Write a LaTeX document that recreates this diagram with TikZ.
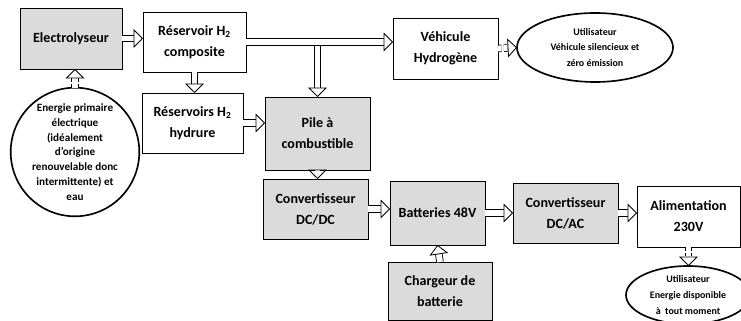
\documentclass[tikz,border=0pt]{standalone}
\usepackage{fontspec}
\setmainfont{Carlito}
\usetikzlibrary{arrows.meta,shapes.geometric}

\definecolor{boxgray}{gray}{0.86}

\begin{document}
\begin{tikzpicture}[x=0.03cm, y=-0.03cm,
	every node/.style={font=\bfseries\fontsize{12}{18}\selectfont, align=center},
	blk/.style={draw, line width=0.8pt, inner sep=2pt, outer sep=0pt},
	grayblk/.style={blk, fill=boxgray},
	usr/.style={draw, ellipse, line width=1.4pt, inner sep=0pt, outer sep=0pt,
		font=\bfseries\fontsize{8.5}{13.5}\selectfont},
	flow/.style={line width=0.7pt, double, double distance=5pt,
		-{Triangle[open, length=8pt, width=16pt, line width=0.7pt]}},
	dflow/.style={flow, densely dashed}
	]
	\useasboundingbox (0,0) rectangle (741,321);

	% production et stockage
	\node[grayblk, minimum width=3.06cm, minimum height=1.83cm] (elec) at (71,38.5) {Electrolyseur};
	\node[blk, minimum width=3.09cm, minimum height=1.8cm] (comp) at (194.5,42) {Réservoir H\textsubscript{2}\\composite};
	\node[blk, minimum width=3.03cm, minimum height=1.8cm] (hyd) at (192.5,123) {Réservoirs H\textsubscript{2}\\hydrure};
	\node[grayblk, minimum width=3.15cm, minimum height=2.19cm] (pile) at (317.5,133.5) {Pile à\\combustible};
	\node[blk, minimum width=3.15cm, minimum height=1.83cm] (veh) at (445.5,48.5) {Véhicule\\Hydrogène};
	\node[usr, minimum width=4.68cm, minimum height=2.07cm] (uveh) at (595,47.5) {Utilisateur\\Véhicule silencieux et\\zéro émission};
	\node[usr, circle, minimum size=3.6cm, font=\bfseries\fontsize{9.5}{12.6}\selectfont] (src) at (75,152)
		{Energie primaire\\électrique\\(idéalement\\d'origine\\renouvelable donc\\intermittente) et\\eau};

	% chaine electrique
	\node[grayblk, minimum width=3.15cm, minimum height=1.8cm] (dcdc) at (315.5,209) {Convertisseur\\DC/DC};
	\node[grayblk, minimum width=2.85cm, minimum height=1.92cm] (batt) at (437.5,213) {Batteries 48V};
	\node[grayblk, minimum width=3.15cm, minimum height=1.8cm] (dcac) at (565.5,213) {Convertisseur\\DC/AC};
	\node[blk, minimum width=3.09cm, minimum height=1.83cm] (alim) at (688.5,216.5) {Alimentation\\230V};
	\node[grayblk, minimum width=3.12cm, minimum height=1.74cm] (charg) at (440,291) {Chargeur de\\batterie};
	\node[usr, minimum width=3.72cm, minimum height=1.74cm] (uali) at (688,295) {Utilisateur\\Energie disponible\\à~ tout moment};

	% fleches
	\draw[dflow] (src.north) -- (src.north |- elec.south);
	\draw[flow] (elec.east) -- (elec.east -| comp.west);
	\draw[flow] (comp.south) -- (comp.south |- hyd.north);
	\draw[flow] (comp.east -| pile.north) -- (pile.north);
	\draw[flow] (comp.east) -- (comp.east -| veh.west);
	\draw[flow] (hyd.east) -- (hyd.east -| pile.west);
	\draw[dflow] (veh.east) -- (uveh.west);
	\draw[flow] (pile.south) -- (pile.south |- dcdc.north);
	\draw[flow] (dcdc.east) -- (dcdc.east -| batt.west);
	\draw[flow] (batt.east) -- (batt.east -| dcac.west);
	\draw[flow] (dcac.east) -- (dcac.east -| alim.west);
	\draw[flow] (charg.north) -- (batt.south);
	\draw[dflow] (alim.south) -- (alim.south |- uali.north);
\end{tikzpicture}
\end{document}
